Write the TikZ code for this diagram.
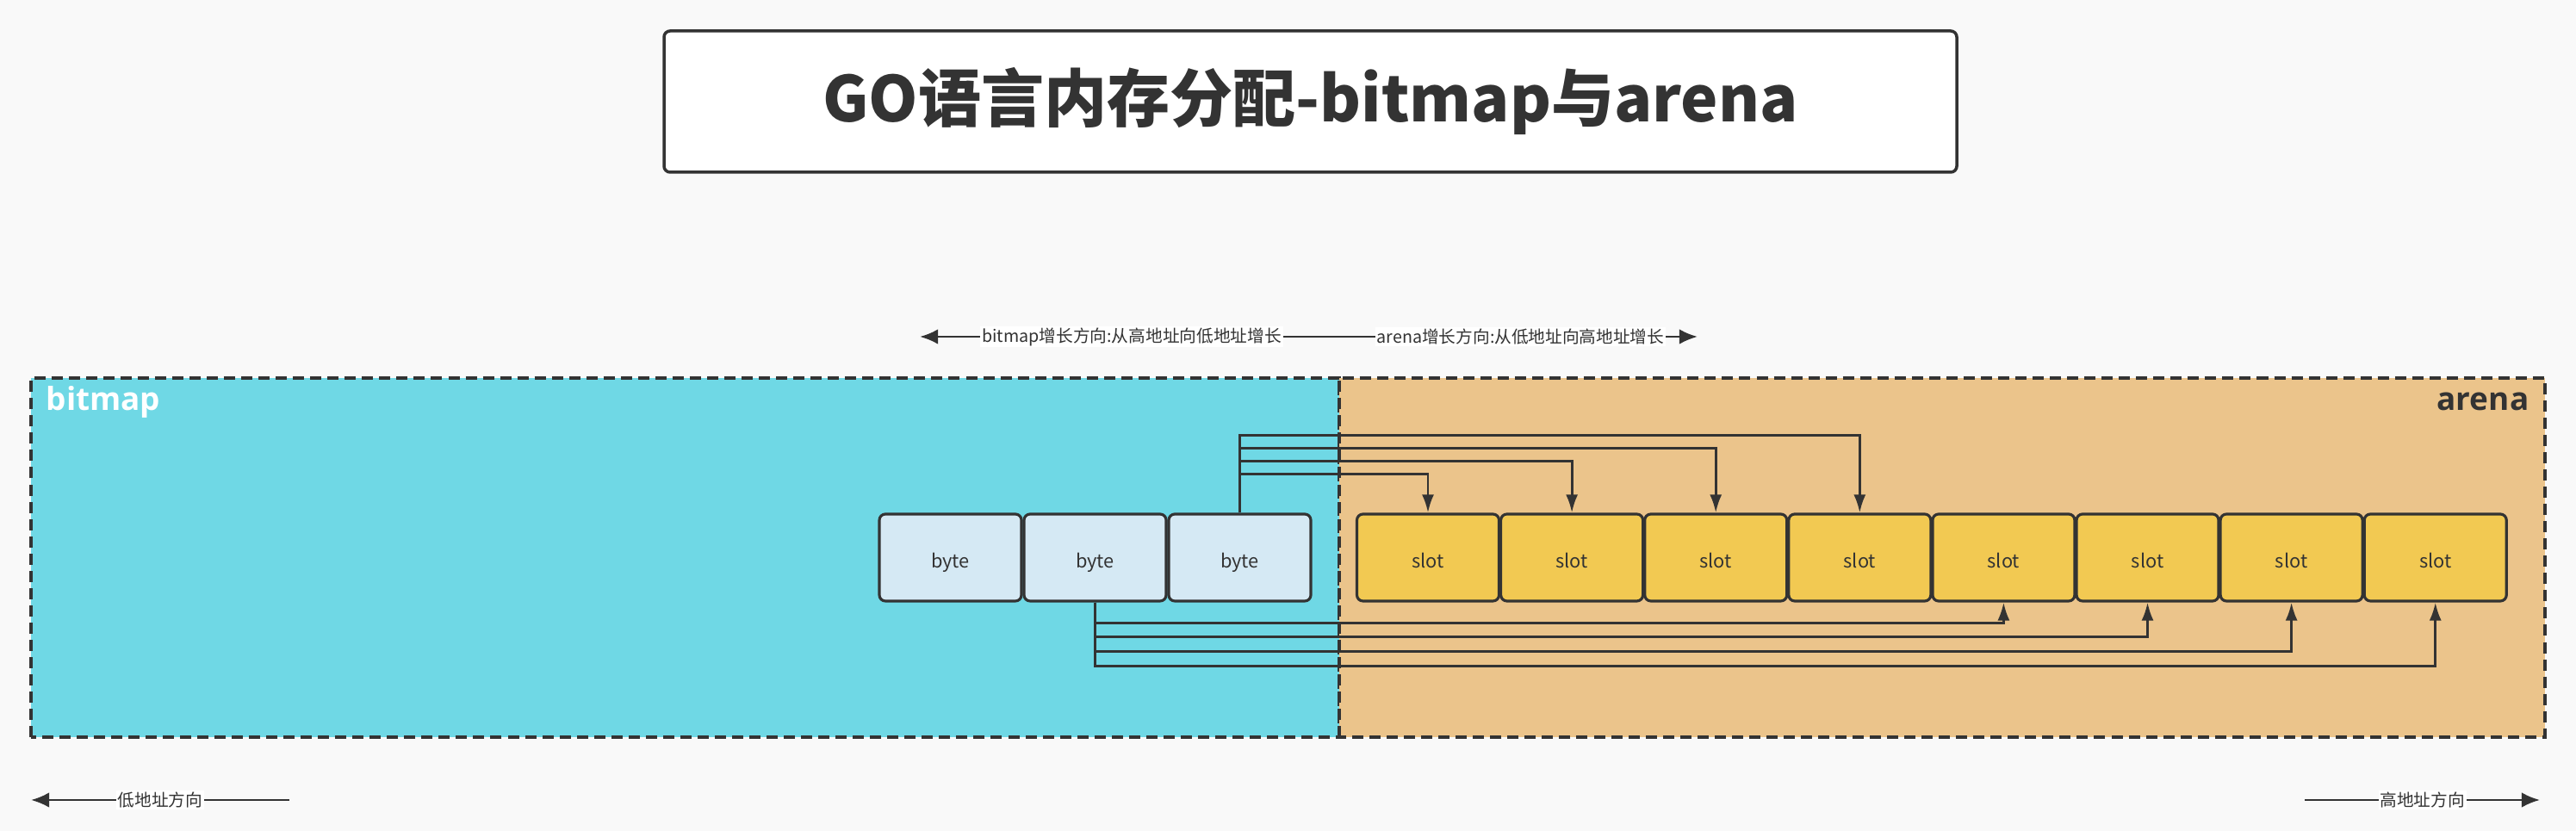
\documentclass[tikz,border=0pt]{standalone}
\usepackage{fontspec}
\setmainfont{Noto Sans CJK SC}
\newfontfamily\lblfont{Open Sans}
\usetikzlibrary{arrows.meta}
\definecolor{dunkel}{HTML}{333333}
\definecolor{bitmapblau}{HTML}{6FD8E5}
\definecolor{arenaorange}{HTML}{EBC48B}
\definecolor{bytehell}{HTML}{D5E9F4}
\definecolor{slotgelb}{HTML}{F2C952}
\definecolor{hinter}{HTML}{F9F9F9}
\tikzset{
	feld/.style={draw=dunkel, line width=0.9pt, rounded corners=2pt, minimum width=1.65cm, minimum height=1.01cm, font=\fontsize{6.2}{7}\selectfont, text=dunkel, text height=7pt, text depth=0pt},
	bytebox/.style={feld, fill=bytehell},
	slotbox/.style={feld, fill=slotgelb},
	bereich/.style={draw=dunkel, line width=0.9pt, dash pattern=on 3.7pt off 2pt},
	pfeil/.style={draw=dunkel, line width=0.8pt, -{Latex[length=6pt,width=4pt]}},
	richtung/.style={draw=dunkel, line width=0.8pt, -{Latex[length=6pt,width=5pt]}},
	beschrift/.style={fill=white, inner sep=0.5pt, font=\fontsize{5.6}{6}\selectfont, text=dunkel},
}
\begin{document}
\begin{tikzpicture}
	% Hintergrund
	\fill [hinter] (0,0) rectangle (29.91,9.65);
	\useasboundingbox (0,0) rectangle (29.91,9.65);
	% Titel
	\node [draw=dunkel, line width=1pt, rounded corners=2pt, fill=white, minimum width=15.01cm, minimum height=1.64cm, font=\bfseries\fontsize{20.8}{24}\selectfont, text=dunkel] (titel) at (15.215,8.47) {GO语言内存分配-bitmap与arena};
	% Bereiche
	\draw [bereich, fill=bitmapblau] (0.36,1.09) rectangle (15.55,5.26);
	\draw [bereich, fill=arenaorange] (15.55,1.09) rectangle (29.55,5.26);
	\node [anchor=base west, inner sep=0, text=white, font=\lblfont\bfseries\fontsize{10.5}{12}\selectfont] (bmname) at (0.53,4.88) {bitmap};
	\node [anchor=base east, inner sep=0, text=dunkel, font=\lblfont\bfseries\fontsize{10.5}{12}\selectfont] (arname) at (29.37,4.88) {arena};
	% Bytes
	\foreach \i/\x in {1/11.035,2/12.715,3/14.395}
		\node [bytebox] (byte\i) at (\x,3.175) {byte};
	% Slots
	\foreach \i in {1,...,8}
		\node [slotbox] (slot\i) at ({16.58+(\i-1)*1.671},3.175) {slot};
	% Verbindungen oben
	\foreach \i/\h in {1/0.45,2/0.60,3/0.75,4/0.90}
		\draw [pfeil] (byte3.north) -- ++(0,\h) -| (slot\i.north);
	% Verbindungen unten
	\foreach \i/\h in {5/0.24,6/0.40,7/0.57,8/0.74}
		\draw [pfeil] (byte2.south) -- ++(0,-\h) -| (slot\i.south);
	% Wachstumsrichtung
	\coordinate (mitte) at (15.6,5.74);
	\coordinate (bmende) at (10.68,5.74);
	\coordinate (arende) at (19.71,5.74);
	\draw [richtung] (mitte) -- node [beschrift] (bmtext) {bitmap增长方向:从高地址向低地址增长} (bmende);
	\draw [richtung] (mitte) -- node [beschrift] (artext) {arena增长方向:从低地址向高地址增长} (arende);
	% Adressrichtung
	\coordinate (tiefstart) at (3.36,0.36);
	\coordinate (tiefende) at (0.36,0.36);
	\coordinate (hochstart) at (26.76,0.36);
	\coordinate (hochende) at (29.49,0.36);
	\draw [richtung] (tiefstart) -- node [beschrift] (tieftext) {低地址方向} (tiefende);
	\draw [richtung] (hochstart) -- node [beschrift] (hochtext) {高地址方向} (hochende);
\end{tikzpicture}
\end{document}
